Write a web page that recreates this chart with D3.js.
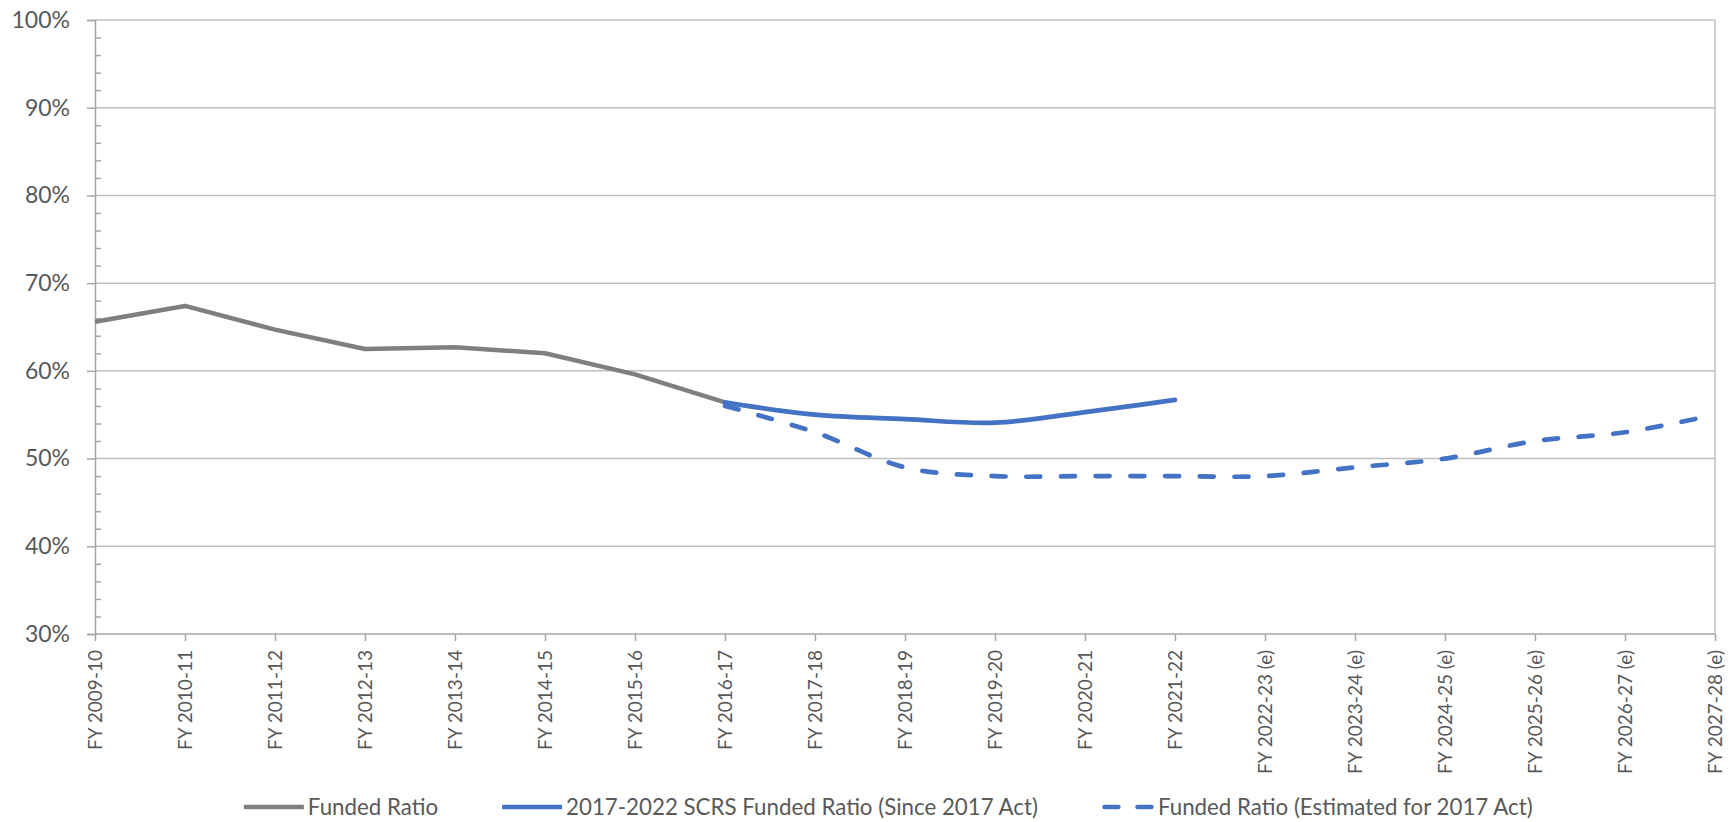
<!DOCTYPE html>
<html>
<head>
<meta charset="utf-8">
<script src="https://cdn.jsdelivr.net/npm/d3@7"></script>
<style>
  html, body { margin: 0; padding: 0; background: #ffffff; }
  svg { display: block; }
  text { font-family: Lato, "Open Sans", sans-serif; fill: #595959; }
</style>
</head>
<body>
<svg id="chart" width="1735" height="822"></svg>
<script>
// ---- data ----
const categories = [
  "FY 2009-10", "FY 2010-11", "FY 2011-12", "FY 2012-13", "FY 2013-14",
  "FY 2014-15", "FY 2015-16", "FY 2016-17", "FY 2017-18", "FY 2018-19",
  "FY 2019-20", "FY 2020-21", "FY 2021-22", "FY 2022-23 (e)", "FY 2023-24 (e)",
  "FY 2024-25 (e)", "FY 2025-26 (e)", "FY 2026-27 (e)", "FY 2027-28 (e)"
];
// Funded Ratio, FY 2009-10 .. FY 2016-17
const fundedRatio = [65.6, 67.4, 64.7, 62.5, 62.7, 62.0, 59.6, 56.4];
// 2017-2022 SCRS Funded Ratio (Since 2017 Act), FY 2016-17 .. FY 2021-22
const scrsSince2017 = [56.4, 55.0, 54.5, 54.1, 55.3, 56.7];
// Funded Ratio (Estimated for 2017 Act), FY 2016-17 .. FY 2027-28
const estimated2017Act = [56.0, 53.0, 49.0, 48.0, 48.0, 48.0, 48.0, 49.0, 50.0, 52.0, 53.0, 55.0];

const yTicks = [30, 40, 50, 60, 70, 80, 90, 100];
const legendLabels = [
  "Funded Ratio",
  "2017-2022 SCRS Funded Ratio (Since 2017 Act)",
  "Funded Ratio (Estimated for 2017 Act)"
];

(function () {
// ---- layout ----
const mLeft = 95, mRight = 1715, mTop = 20, mBottom = 634;
const GRAY = "#7f7f7f", BLUE = "#4472c4";
const GRID = "#c0c0c0", AXIS = "#a6a6a6";

const svg = d3.select("#chart");

const x = d3.scalePoint().domain(categories).range([mLeft, mRight]);
const y = d3.scaleLinear().domain([30, 100]).range([mBottom, mTop]);

// gridlines
svg.append("g").selectAll("line")
  .data(yTicks.filter(d => d > 30))
  .join("line")
  .attr("x1", mLeft).attr("x2", mRight)
  .attr("y1", d => y(d)).attr("y2", d => y(d))
  .attr("stroke", GRID).attr("stroke-width", 1.5);

// right border
svg.append("line")
  .attr("x1", mRight).attr("x2", mRight).attr("y1", mTop).attr("y2", mBottom)
  .attr("stroke", GRID).attr("stroke-width", 1.5);

// y axis (major ticks outside)
const yAxis = d3.axisLeft(y).tickValues(yTicks).tickSize(8).tickPadding(17)
  .tickFormat(d => d + "%");
const gy = svg.append("g").attr("transform", `translate(${mLeft},0)`).call(yAxis);
gy.select(".domain").attr("stroke", AXIS).attr("stroke-width", 1.5);
gy.selectAll(".tick line").attr("stroke", AXIS).attr("stroke-width", 1.5);
gy.selectAll(".tick text").style("font-size", "23px").attr("fill", "#595959")
  .style("font-family", "Lato, sans-serif");

// y minor ticks (inside)
const minor = d3.range(32, 100, 2).filter(v => v % 10 !== 0);
const yMinor = d3.axisRight(y).tickValues(minor).tickSize(6).tickFormat("");
const gym = svg.append("g").attr("transform", `translate(${mLeft},0)`).call(yMinor);
gym.select(".domain").remove();
gym.selectAll(".tick line").attr("stroke", AXIS).attr("stroke-width", 1.5);

// x axis
const xAxis = d3.axisBottom(x).tickSize(7).tickPadding(0);
const gx = svg.append("g").attr("transform", `translate(0,${mBottom})`).call(xAxis);
gx.select(".domain").attr("stroke", AXIS).attr("stroke-width", 1.5)
  .attr("d", `M${mLeft},0H${mRight}`);
gx.selectAll(".tick line").attr("stroke", AXIS).attr("stroke-width", 1.5);
gx.selectAll(".tick text")
  .style("font-size", "19px").style("font-family", "Lato, sans-serif")
  .attr("fill", "#595959")
  .attr("text-anchor", "end")
  .attr("dy", "0.35em")
  .attr("transform", "translate(0,16) rotate(-90)")
  .attr("x", 0).attr("y", 0);

// lines
const linear = d3.line().x(d => x(d.c)).y(d => y(d.v));
const smooth = d3.line().x(d => x(d.c)).y(d => y(d.v)).curve(d3.curveCardinal.tension(0));

const grayData = fundedRatio.map((v, i) => ({c: categories[i], v}));
const blueData = scrsSince2017.map((v, i) => ({c: categories[i + 7], v}));
const dashData = estimated2017Act.map((v, i) => ({c: categories[i + 7], v}));

svg.append("path").datum(dashData).attr("d", smooth)
  .attr("fill", "none").attr("stroke", BLUE).attr("stroke-width", 4.7)
  .attr("stroke-dasharray", "14 20.7").attr("stroke-linecap", "round");

svg.append("path").datum(grayData).attr("d", linear)
  .attr("fill", "none").attr("stroke", GRAY).attr("stroke-width", 4.5)
  .attr("stroke-linejoin", "round");

svg.append("path").datum(blueData).attr("d", smooth)
  .attr("fill", "none").attr("stroke", BLUE).attr("stroke-width", 4.7)
  .attr("stroke-linecap", "round").attr("stroke-linejoin", "round");

// legend
const legendY = 807;
const legend = svg.append("g");
const styles = [
  {color: GRAY, dash: null, cap: "butt"},
  {color: BLUE, dash: null, cap: "butt"},
  {color: BLUE, dash: "14 19", cap: "round"}
];
const items = legend.selectAll("g").data(legendLabels).join("g");
items.each(function(d, i) {
  const g = d3.select(this);
  const st = styles[i];
  const ln = g.append("line").attr("y1", legendY).attr("y2", legendY)
    .attr("stroke", st.color).attr("stroke-width", 4.5)
    .attr("stroke-linecap", st.cap);
  if (st.dash) {
    ln.attr("x1", 2.5).attr("x2", 49.5).attr("stroke-dasharray", st.dash);
  } else {
    ln.attr("x1", 0).attr("x2", 60);
  }
  g.append("text").attr("x", st.dash ? 56 : 64).attr("y", legendY).attr("dy", "0.35em")
    .style("font-size", "22.3px").text(d);
});
let cursor = 0;
const gap = 64;
const widths = [];
items.each(function() { widths.push(this.getBBox().width); });
const total = d3.sum(widths) + gap * (widths.length - 1);
cursor = 887 - total / 2;
items.each(function(d, i) {
  d3.select(this).attr("transform", `translate(${cursor},0)`);
  cursor += widths[i] + gap;
});
})();
</script>
</body>
</html>
